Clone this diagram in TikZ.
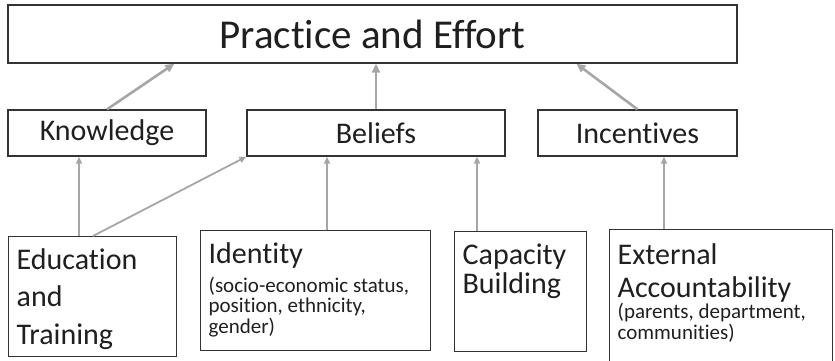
\documentclass[tikz,border=0pt]{standalone}
\usepackage{fontspec}
\setmainfont{Carlito}[RawFeature=-liga, RawFeature=-clig, RawFeature=-calt, RawFeature=-dlig]
\usepackage{xcolor}
\usepackage{tikz}
\usetikzlibrary{arrows.meta,positioning,calc}
\tikzstyle{bigbox} = [rectangle, draw=black!80, line width=1.3pt, text=black!88, inner sep=0pt, font=\fontsize{41}{48}\selectfont]
\tikzstyle{midbox} = [rectangle, draw=black!80, line width=1.3pt, text=black!88, inner sep=0pt, font=\fontsize{30}{36}\selectfont]
\tikzstyle{lowbox} = [rectangle, draw=black!80, line width=1.3pt, text=black!88, anchor=north west, inner xsep=8pt, inner ysep=0pt]
\tikzstyle{uparrow} = [draw=gray!70, line width=2.6pt, -{Triangle[length=9pt,width=8pt]}]
\tikzstyle{lowarrow} = [draw=gray!70, line width=1.8pt, -{Triangle[length=7pt,width=6pt]}]
\newcommand{\mainsize}{\fontsize{30}{37.5}\selectfont}
\newcommand{\notesize}{\fontsize{21}{20.7}\selectfont}

\begin{document}
\begin{tikzpicture}[x=1pt, y=-1pt]
    \useasboundingbox (0,0) rectangle (835,361);
    % top row
    \node[bigbox, minimum width=729pt, minimum height=58pt] (practice) at (372.5,34) {Practice and Effort};
    % middle row
    \node[midbox, minimum width=198pt, minimum height=46pt] (knowledge) at (107,133) {Knowledge};
    \node[midbox, minimum width=258pt, minimum height=46pt] (beliefs) at (376,133) {Beliefs};
    \node[midbox, minimum width=199pt, minimum height=46pt] (incentives) at (637.5,133) {Incentives};
    % bottom row
    \node[lowbox] (education) at (8,236) {\parbox[c][120pt][t]{152pt}{\raggedright\vspace*{12pt}\mainsize Education\\and\\Training}};
    \node[lowbox] (identity) at (200,230) {\parbox[c][120pt][t]{214pt}{\raggedright\vspace*{12pt}\mainsize Identity\par\vspace{8pt}\notesize (socio-economic status,\\position, ethnicity,\\gender)}};
    \node[lowbox] (capacity) at (454,231) {\parbox[c][120pt][t]{116pt}{\raggedright\vspace*{12pt}\fontsize{30}{29}\selectfont Capacity\\Building}};
    \node[lowbox] (external) at (609,229) {\parbox[c][150pt][t]{207pt}{\raggedright\vspace*{14pt}\fontsize{30}{33}\selectfont External\\Accountability\par\vspace{0pt}\notesize\baselineskip=21pt (parents, department,\\communities)}};

    \draw[uparrow] (knowledge.north) -- ([xshift=167pt]practice.south west);
    \draw[uparrow] (beliefs.north) -- (beliefs.north |- practice.south);
    \draw[uparrow] (incentives.north) -- ([xshift=569pt]practice.south west);

    \draw[lowarrow] ([xshift=71pt]education.north west) -- ([xshift=71pt]education.north west |- knowledge.south);
    \draw[lowarrow] ([xshift=85pt]education.north west) -- (beliefs.south west);
    \draw[lowarrow] ([xshift=127pt]identity.north west) -- ([xshift=127pt]identity.north west |- beliefs.south);
    \draw[lowarrow] ([xshift=23pt]capacity.north west) -- ([xshift=23pt]capacity.north west |- beliefs.south);
    \draw[lowarrow] ([xshift=55pt]external.north west) -- ([xshift=55pt]external.north west |- incentives.south);
\end{tikzpicture}
\end{document}
